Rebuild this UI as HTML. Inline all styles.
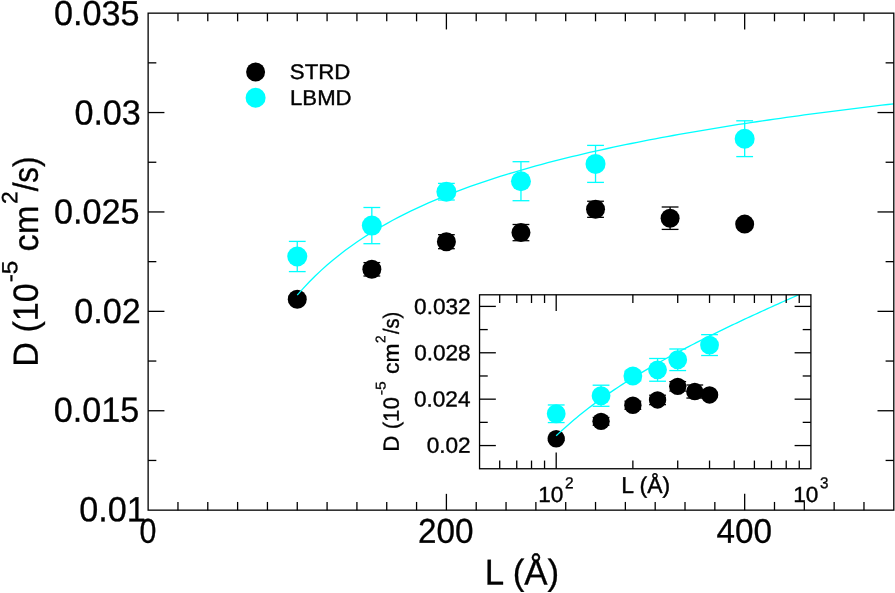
<!DOCTYPE html>
<html><head><meta charset="utf-8"><title>D vs L</title>
<style>html,body{margin:0;padding:0;background:#fff;overflow:hidden}body{width:895px;height:593px;position:relative;font-family:"Liberation Sans",sans-serif}</style>
</head><body>
<svg width="895" height="593" viewBox="0 0 895 593" style="position:absolute;left:0;top:0;display:block" role="img" aria-label="D versus L chart with inset">
<rect x="0" y="0" width="895" height="593" fill="#fff"/>
<g id="main-data">
<line x1="297.26" y1="296.20" x2="297.26" y2="302.20" stroke="#000" stroke-width="1.30"/>
<line x1="288.86" y1="296.20" x2="305.66" y2="296.20" stroke="#000" stroke-width="1.30"/>
<line x1="288.86" y1="302.20" x2="305.66" y2="302.20" stroke="#000" stroke-width="1.30"/>
<circle cx="297.26" cy="299.20" r="9.50" fill="#000"/>
<line x1="371.83" y1="262.60" x2="371.83" y2="276.00" stroke="#000" stroke-width="1.30"/>
<line x1="363.43" y1="262.60" x2="380.23" y2="262.60" stroke="#000" stroke-width="1.30"/>
<line x1="363.43" y1="276.00" x2="380.23" y2="276.00" stroke="#000" stroke-width="1.30"/>
<circle cx="371.83" cy="269.30" r="9.50" fill="#000"/>
<line x1="446.40" y1="234.70" x2="446.40" y2="248.70" stroke="#000" stroke-width="1.30"/>
<line x1="438.00" y1="234.70" x2="454.80" y2="234.70" stroke="#000" stroke-width="1.30"/>
<line x1="438.00" y1="248.70" x2="454.80" y2="248.70" stroke="#000" stroke-width="1.30"/>
<circle cx="446.40" cy="241.70" r="9.50" fill="#000"/>
<line x1="520.96" y1="224.50" x2="520.96" y2="240.70" stroke="#000" stroke-width="1.30"/>
<line x1="512.56" y1="224.50" x2="529.36" y2="224.50" stroke="#000" stroke-width="1.30"/>
<line x1="512.56" y1="240.70" x2="529.36" y2="240.70" stroke="#000" stroke-width="1.30"/>
<circle cx="520.96" cy="232.60" r="9.50" fill="#000"/>
<line x1="595.53" y1="201.25" x2="595.53" y2="217.35" stroke="#000" stroke-width="1.30"/>
<line x1="587.13" y1="201.25" x2="603.93" y2="201.25" stroke="#000" stroke-width="1.30"/>
<line x1="587.13" y1="217.35" x2="603.93" y2="217.35" stroke="#000" stroke-width="1.30"/>
<circle cx="595.53" cy="209.30" r="9.50" fill="#000"/>
<line x1="670.10" y1="207.00" x2="670.10" y2="229.40" stroke="#000" stroke-width="1.30"/>
<line x1="661.70" y1="207.00" x2="678.50" y2="207.00" stroke="#000" stroke-width="1.30"/>
<line x1="661.70" y1="229.40" x2="678.50" y2="229.40" stroke="#000" stroke-width="1.30"/>
<circle cx="670.10" cy="218.20" r="9.50" fill="#000"/>
<line x1="744.67" y1="221.10" x2="744.67" y2="227.10" stroke="#000" stroke-width="1.30"/>
<line x1="736.27" y1="221.10" x2="753.07" y2="221.10" stroke="#000" stroke-width="1.30"/>
<line x1="736.27" y1="227.10" x2="753.07" y2="227.10" stroke="#000" stroke-width="1.30"/>
<circle cx="744.67" cy="224.10" r="9.50" fill="#000"/>
<path d="M297.26,295.15 L303.23,288.38 L309.19,282.02 L315.16,276.03 L321.13,270.38 L327.09,265.03 L333.06,259.96 L339.02,255.14 L344.99,250.55 L350.95,246.17 L356.92,241.99 L362.88,237.99 L368.85,234.16 L374.81,230.49 L380.78,226.96 L386.74,223.57 L392.71,220.30 L398.68,217.16 L404.64,214.12 L410.61,211.19 L416.57,208.36 L422.54,205.61 L428.50,202.96 L434.47,200.39 L440.43,197.89 L446.40,195.47 L452.36,193.12 L458.33,190.84 L464.29,188.62 L470.26,186.46 L476.22,184.36 L482.19,182.31 L488.16,180.31 L494.12,178.36 L500.09,176.46 L506.05,174.61 L512.02,172.79 L517.98,171.02 L523.95,169.29 L529.91,167.60 L535.88,165.95 L541.84,164.33 L547.81,162.74 L553.77,161.19 L559.74,159.67 L565.71,158.18 L571.67,156.71 L577.64,155.28 L583.60,153.87 L589.57,152.49 L595.53,151.14 L601.50,149.81 L607.46,148.50 L613.43,147.21 L619.39,145.95 L625.36,144.71 L631.32,143.49 L637.29,142.29 L643.25,141.11 L649.22,139.95 L655.19,138.81 L661.15,137.68 L667.12,136.58 L673.08,135.49 L679.05,134.41 L685.01,133.35 L690.98,132.31 L696.94,131.28 L702.91,130.27 L708.87,129.27 L714.84,128.29 L720.80,127.31 L726.77,126.36 L732.74,125.41 L738.70,124.48 L744.67,123.56 L750.63,122.65 L756.60,121.75 L762.56,120.86 L768.53,119.99 L774.49,119.13 L780.46,118.27 L786.42,117.43 L792.39,116.60 L798.35,115.77 L804.32,114.96 L810.28,114.16 L816.25,113.36 L822.22,112.58 L828.18,111.80 L834.15,111.03 L840.11,110.27 L846.08,109.52 L852.04,108.78 L858.01,108.04 L863.97,107.31 L869.94,106.59 L875.90,105.88 L881.87,105.18 L887.83,104.48 L893.80,103.79" fill="none" stroke="#0ff" stroke-width="1.30"/>
<line x1="297.26" y1="241.40" x2="297.26" y2="271.60" stroke="#0ff" stroke-width="1.30"/>
<line x1="288.86" y1="241.40" x2="305.66" y2="241.40" stroke="#0ff" stroke-width="1.30"/>
<line x1="288.86" y1="271.60" x2="305.66" y2="271.60" stroke="#0ff" stroke-width="1.30"/>
<circle cx="297.26" cy="256.50" r="10.00" fill="#0ff"/>
<line x1="371.83" y1="207.50" x2="371.83" y2="243.70" stroke="#0ff" stroke-width="1.30"/>
<line x1="363.43" y1="207.50" x2="380.23" y2="207.50" stroke="#0ff" stroke-width="1.30"/>
<line x1="363.43" y1="243.70" x2="380.23" y2="243.70" stroke="#0ff" stroke-width="1.30"/>
<circle cx="371.83" cy="225.60" r="10.00" fill="#0ff"/>
<line x1="446.40" y1="183.40" x2="446.40" y2="200.00" stroke="#0ff" stroke-width="1.30"/>
<line x1="438.00" y1="183.40" x2="454.80" y2="183.40" stroke="#0ff" stroke-width="1.30"/>
<line x1="438.00" y1="200.00" x2="454.80" y2="200.00" stroke="#0ff" stroke-width="1.30"/>
<circle cx="446.40" cy="191.70" r="10.00" fill="#0ff"/>
<line x1="520.96" y1="161.70" x2="520.96" y2="200.70" stroke="#0ff" stroke-width="1.30"/>
<line x1="512.56" y1="161.70" x2="529.36" y2="161.70" stroke="#0ff" stroke-width="1.30"/>
<line x1="512.56" y1="200.70" x2="529.36" y2="200.70" stroke="#0ff" stroke-width="1.30"/>
<circle cx="520.96" cy="181.20" r="10.00" fill="#0ff"/>
<line x1="595.53" y1="145.40" x2="595.53" y2="182.40" stroke="#0ff" stroke-width="1.30"/>
<line x1="587.13" y1="145.40" x2="603.93" y2="145.40" stroke="#0ff" stroke-width="1.30"/>
<line x1="587.13" y1="182.40" x2="603.93" y2="182.40" stroke="#0ff" stroke-width="1.30"/>
<circle cx="595.53" cy="163.90" r="10.00" fill="#0ff"/>
<line x1="744.67" y1="120.80" x2="744.67" y2="156.60" stroke="#0ff" stroke-width="1.30"/>
<line x1="736.27" y1="120.80" x2="753.07" y2="120.80" stroke="#0ff" stroke-width="1.30"/>
<line x1="736.27" y1="156.60" x2="753.07" y2="156.60" stroke="#0ff" stroke-width="1.30"/>
<circle cx="744.67" cy="138.70" r="10.00" fill="#0ff"/>
<circle cx="255.6" cy="72" r="9.50" fill="#000"/>
<circle cx="255.6" cy="97.8" r="10.00" fill="#0ff"/>
</g>
<g id="main-axes">
<rect x="148.13" y="13.15" width="745.67" height="497.00" fill="none" stroke="#000" stroke-width="1.30"/>
<line x1="177.96" y1="510.15" x2="177.96" y2="501.95" stroke="#000" stroke-width="1.30"/>
<line x1="177.96" y1="13.15" x2="177.96" y2="21.35" stroke="#000" stroke-width="1.30"/>
<line x1="207.78" y1="510.15" x2="207.78" y2="501.95" stroke="#000" stroke-width="1.30"/>
<line x1="207.78" y1="13.15" x2="207.78" y2="21.35" stroke="#000" stroke-width="1.30"/>
<line x1="237.61" y1="510.15" x2="237.61" y2="501.95" stroke="#000" stroke-width="1.30"/>
<line x1="237.61" y1="13.15" x2="237.61" y2="21.35" stroke="#000" stroke-width="1.30"/>
<line x1="267.44" y1="510.15" x2="267.44" y2="501.95" stroke="#000" stroke-width="1.30"/>
<line x1="267.44" y1="13.15" x2="267.44" y2="21.35" stroke="#000" stroke-width="1.30"/>
<line x1="297.26" y1="510.15" x2="297.26" y2="501.95" stroke="#000" stroke-width="1.30"/>
<line x1="297.26" y1="13.15" x2="297.26" y2="21.35" stroke="#000" stroke-width="1.30"/>
<line x1="327.09" y1="510.15" x2="327.09" y2="501.95" stroke="#000" stroke-width="1.30"/>
<line x1="327.09" y1="13.15" x2="327.09" y2="21.35" stroke="#000" stroke-width="1.30"/>
<line x1="356.92" y1="510.15" x2="356.92" y2="501.95" stroke="#000" stroke-width="1.30"/>
<line x1="356.92" y1="13.15" x2="356.92" y2="21.35" stroke="#000" stroke-width="1.30"/>
<line x1="386.74" y1="510.15" x2="386.74" y2="501.95" stroke="#000" stroke-width="1.30"/>
<line x1="386.74" y1="13.15" x2="386.74" y2="21.35" stroke="#000" stroke-width="1.30"/>
<line x1="416.57" y1="510.15" x2="416.57" y2="501.95" stroke="#000" stroke-width="1.30"/>
<line x1="416.57" y1="13.15" x2="416.57" y2="21.35" stroke="#000" stroke-width="1.30"/>
<line x1="446.40" y1="510.15" x2="446.40" y2="493.85" stroke="#000" stroke-width="1.30"/>
<line x1="446.40" y1="13.15" x2="446.40" y2="29.45" stroke="#000" stroke-width="1.30"/>
<line x1="476.22" y1="510.15" x2="476.22" y2="501.95" stroke="#000" stroke-width="1.30"/>
<line x1="476.22" y1="13.15" x2="476.22" y2="21.35" stroke="#000" stroke-width="1.30"/>
<line x1="506.05" y1="510.15" x2="506.05" y2="501.95" stroke="#000" stroke-width="1.30"/>
<line x1="506.05" y1="13.15" x2="506.05" y2="21.35" stroke="#000" stroke-width="1.30"/>
<line x1="535.88" y1="510.15" x2="535.88" y2="501.95" stroke="#000" stroke-width="1.30"/>
<line x1="535.88" y1="13.15" x2="535.88" y2="21.35" stroke="#000" stroke-width="1.30"/>
<line x1="565.71" y1="510.15" x2="565.71" y2="501.95" stroke="#000" stroke-width="1.30"/>
<line x1="565.71" y1="13.15" x2="565.71" y2="21.35" stroke="#000" stroke-width="1.30"/>
<line x1="595.53" y1="510.15" x2="595.53" y2="501.95" stroke="#000" stroke-width="1.30"/>
<line x1="595.53" y1="13.15" x2="595.53" y2="21.35" stroke="#000" stroke-width="1.30"/>
<line x1="625.36" y1="510.15" x2="625.36" y2="501.95" stroke="#000" stroke-width="1.30"/>
<line x1="625.36" y1="13.15" x2="625.36" y2="21.35" stroke="#000" stroke-width="1.30"/>
<line x1="655.19" y1="510.15" x2="655.19" y2="501.95" stroke="#000" stroke-width="1.30"/>
<line x1="655.19" y1="13.15" x2="655.19" y2="21.35" stroke="#000" stroke-width="1.30"/>
<line x1="685.01" y1="510.15" x2="685.01" y2="501.95" stroke="#000" stroke-width="1.30"/>
<line x1="685.01" y1="13.15" x2="685.01" y2="21.35" stroke="#000" stroke-width="1.30"/>
<line x1="714.84" y1="510.15" x2="714.84" y2="501.95" stroke="#000" stroke-width="1.30"/>
<line x1="714.84" y1="13.15" x2="714.84" y2="21.35" stroke="#000" stroke-width="1.30"/>
<line x1="744.67" y1="510.15" x2="744.67" y2="493.85" stroke="#000" stroke-width="1.30"/>
<line x1="744.67" y1="13.15" x2="744.67" y2="29.45" stroke="#000" stroke-width="1.30"/>
<line x1="774.49" y1="510.15" x2="774.49" y2="501.95" stroke="#000" stroke-width="1.30"/>
<line x1="774.49" y1="13.15" x2="774.49" y2="21.35" stroke="#000" stroke-width="1.30"/>
<line x1="804.32" y1="510.15" x2="804.32" y2="501.95" stroke="#000" stroke-width="1.30"/>
<line x1="804.32" y1="13.15" x2="804.32" y2="21.35" stroke="#000" stroke-width="1.30"/>
<line x1="834.15" y1="510.15" x2="834.15" y2="501.95" stroke="#000" stroke-width="1.30"/>
<line x1="834.15" y1="13.15" x2="834.15" y2="21.35" stroke="#000" stroke-width="1.30"/>
<line x1="863.97" y1="510.15" x2="863.97" y2="501.95" stroke="#000" stroke-width="1.30"/>
<line x1="863.97" y1="13.15" x2="863.97" y2="21.35" stroke="#000" stroke-width="1.30"/>
<line x1="148.13" y1="460.45" x2="156.33" y2="460.45" stroke="#000" stroke-width="1.30"/>
<line x1="893.80" y1="460.45" x2="885.60" y2="460.45" stroke="#000" stroke-width="1.30"/>
<line x1="148.13" y1="410.75" x2="164.43" y2="410.75" stroke="#000" stroke-width="1.30"/>
<line x1="893.80" y1="410.75" x2="877.50" y2="410.75" stroke="#000" stroke-width="1.30"/>
<line x1="148.13" y1="361.05" x2="156.33" y2="361.05" stroke="#000" stroke-width="1.30"/>
<line x1="893.80" y1="361.05" x2="885.60" y2="361.05" stroke="#000" stroke-width="1.30"/>
<line x1="148.13" y1="311.35" x2="164.43" y2="311.35" stroke="#000" stroke-width="1.30"/>
<line x1="893.80" y1="311.35" x2="877.50" y2="311.35" stroke="#000" stroke-width="1.30"/>
<line x1="148.13" y1="261.65" x2="156.33" y2="261.65" stroke="#000" stroke-width="1.30"/>
<line x1="893.80" y1="261.65" x2="885.60" y2="261.65" stroke="#000" stroke-width="1.30"/>
<line x1="148.13" y1="211.95" x2="164.43" y2="211.95" stroke="#000" stroke-width="1.30"/>
<line x1="893.80" y1="211.95" x2="877.50" y2="211.95" stroke="#000" stroke-width="1.30"/>
<line x1="148.13" y1="162.25" x2="156.33" y2="162.25" stroke="#000" stroke-width="1.30"/>
<line x1="893.80" y1="162.25" x2="885.60" y2="162.25" stroke="#000" stroke-width="1.30"/>
<line x1="148.13" y1="112.55" x2="164.43" y2="112.55" stroke="#000" stroke-width="1.30"/>
<line x1="893.80" y1="112.55" x2="877.50" y2="112.55" stroke="#000" stroke-width="1.30"/>
<line x1="148.13" y1="62.85" x2="156.33" y2="62.85" stroke="#000" stroke-width="1.30"/>
<line x1="893.80" y1="62.85" x2="885.60" y2="62.85" stroke="#000" stroke-width="1.30"/>
</g>
<g id="inset">
<rect x="479.55" y="294.80" width="331.35" height="173.95" fill="#fff"/>
<clipPath id="ic"><rect x="479.55" y="294.80" width="331.35" height="173.95"/></clipPath>
<line x1="556.20" y1="437.02" x2="556.20" y2="440.51" stroke="#000" stroke-width="1.30"/>
<line x1="547.80" y1="437.02" x2="564.60" y2="437.02" stroke="#000" stroke-width="1.30"/>
<line x1="547.80" y1="440.51" x2="564.60" y2="440.51" stroke="#000" stroke-width="1.30"/>
<circle cx="556.20" cy="438.76" r="8.70" fill="#000"/>
<line x1="601.05" y1="417.42" x2="601.05" y2="425.24" stroke="#000" stroke-width="1.30"/>
<line x1="592.65" y1="417.42" x2="609.45" y2="417.42" stroke="#000" stroke-width="1.30"/>
<line x1="592.65" y1="425.24" x2="609.45" y2="425.24" stroke="#000" stroke-width="1.30"/>
<circle cx="601.05" cy="421.33" r="8.70" fill="#000"/>
<line x1="632.87" y1="401.16" x2="632.87" y2="409.32" stroke="#000" stroke-width="1.30"/>
<line x1="624.47" y1="401.16" x2="641.27" y2="401.16" stroke="#000" stroke-width="1.30"/>
<line x1="624.47" y1="409.32" x2="641.27" y2="409.32" stroke="#000" stroke-width="1.30"/>
<circle cx="632.87" cy="405.24" r="8.70" fill="#000"/>
<line x1="657.56" y1="395.21" x2="657.56" y2="404.65" stroke="#000" stroke-width="1.30"/>
<line x1="649.16" y1="395.21" x2="665.96" y2="395.21" stroke="#000" stroke-width="1.30"/>
<line x1="649.16" y1="404.65" x2="665.96" y2="404.65" stroke="#000" stroke-width="1.30"/>
<circle cx="657.56" cy="399.93" r="8.70" fill="#000"/>
<line x1="677.72" y1="381.65" x2="677.72" y2="391.04" stroke="#000" stroke-width="1.30"/>
<line x1="669.32" y1="381.65" x2="686.12" y2="381.65" stroke="#000" stroke-width="1.30"/>
<line x1="669.32" y1="391.04" x2="686.12" y2="391.04" stroke="#000" stroke-width="1.30"/>
<circle cx="677.72" cy="386.34" r="8.70" fill="#000"/>
<line x1="694.77" y1="385.00" x2="694.77" y2="398.06" stroke="#000" stroke-width="1.30"/>
<line x1="686.37" y1="385.00" x2="703.17" y2="385.00" stroke="#000" stroke-width="1.30"/>
<line x1="686.37" y1="398.06" x2="703.17" y2="398.06" stroke="#000" stroke-width="1.30"/>
<circle cx="694.77" cy="391.53" r="8.70" fill="#000"/>
<line x1="709.54" y1="393.22" x2="709.54" y2="396.72" stroke="#000" stroke-width="1.30"/>
<line x1="701.14" y1="393.22" x2="717.94" y2="393.22" stroke="#000" stroke-width="1.30"/>
<line x1="701.14" y1="396.72" x2="717.94" y2="396.72" stroke="#000" stroke-width="1.30"/>
<circle cx="709.54" cy="394.97" r="8.70" fill="#000"/>
<path d="M556.20,435.81 L558.75,433.39 L561.29,431.02 L563.84,428.69 L566.39,426.40 L568.94,424.16 L571.48,421.96 L574.03,419.79 L576.58,417.67 L579.12,415.57 L581.67,413.52 L584.22,411.49 L586.76,409.50 L589.31,407.54 L591.86,405.61 L594.40,403.71 L596.95,401.83 L599.50,399.98 L602.05,398.16 L604.59,396.36 L607.14,394.59 L609.69,392.84 L612.23,391.11 L614.78,389.40 L617.33,387.71 L619.88,386.05 L622.42,384.40 L624.97,382.77 L627.52,381.16 L630.06,379.57 L632.61,377.99 L635.16,376.43 L637.70,374.89 L640.25,373.36 L642.80,371.84 L645.35,370.34 L647.89,368.85 L650.44,367.38 L652.99,365.92 L655.53,364.47 L658.08,363.04 L660.63,361.61 L663.17,360.20 L665.72,358.79 L668.27,357.40 L670.82,356.02 L673.36,354.65 L675.91,353.29 L678.46,351.93 L681.00,350.59 L683.55,349.25 L686.10,347.93 L688.64,346.61 L691.19,345.29 L693.74,343.99 L696.29,342.69 L698.83,341.41 L701.38,340.12 L703.93,338.85 L706.47,337.58 L709.02,336.32 L711.57,335.06 L714.11,333.81 L716.66,332.56 L719.21,331.33 L721.76,330.09 L724.30,328.86 L726.85,327.64 L729.40,326.42 L731.94,325.21 L734.49,324.00 L737.04,322.79 L739.58,321.59 L742.13,320.40 L744.68,319.21 L747.23,318.02 L749.77,316.84 L752.32,315.66 L754.87,314.48 L757.41,313.31 L759.96,312.14 L762.51,310.97 L765.05,309.81 L767.60,308.65 L770.15,307.50 L772.70,306.34 L775.24,305.19 L777.79,304.05 L780.34,302.90 L782.88,301.76 L785.43,300.62 L787.98,299.49 L790.52,298.35 L793.07,297.22 L795.62,296.09 L798.16,294.97 L800.71,293.84 L803.26,292.72 L805.81,291.60 L808.35,290.48 L810.90,289.36" fill="none" stroke="#0ff" stroke-width="1.30" clip-path="url(#ic)"/>
<line x1="556.20" y1="404.96" x2="556.20" y2="422.57" stroke="#0ff" stroke-width="1.30"/>
<line x1="547.80" y1="404.96" x2="564.60" y2="404.96" stroke="#0ff" stroke-width="1.30"/>
<line x1="547.80" y1="422.57" x2="564.60" y2="422.57" stroke="#0ff" stroke-width="1.30"/>
<circle cx="556.20" cy="413.77" r="9.40" fill="#0ff"/>
<line x1="601.05" y1="385.20" x2="601.05" y2="406.30" stroke="#0ff" stroke-width="1.30"/>
<line x1="592.65" y1="385.20" x2="609.45" y2="385.20" stroke="#0ff" stroke-width="1.30"/>
<line x1="592.65" y1="406.30" x2="609.45" y2="406.30" stroke="#0ff" stroke-width="1.30"/>
<circle cx="601.05" cy="395.75" r="9.40" fill="#0ff"/>
<line x1="632.87" y1="371.14" x2="632.87" y2="380.82" stroke="#0ff" stroke-width="1.30"/>
<line x1="624.47" y1="371.14" x2="641.27" y2="371.14" stroke="#0ff" stroke-width="1.30"/>
<line x1="624.47" y1="380.82" x2="641.27" y2="380.82" stroke="#0ff" stroke-width="1.30"/>
<circle cx="632.87" cy="375.98" r="9.40" fill="#0ff"/>
<line x1="657.56" y1="358.49" x2="657.56" y2="381.23" stroke="#0ff" stroke-width="1.30"/>
<line x1="649.16" y1="358.49" x2="665.96" y2="358.49" stroke="#0ff" stroke-width="1.30"/>
<line x1="649.16" y1="381.23" x2="665.96" y2="381.23" stroke="#0ff" stroke-width="1.30"/>
<circle cx="657.56" cy="369.86" r="9.40" fill="#0ff"/>
<line x1="677.72" y1="348.99" x2="677.72" y2="370.56" stroke="#0ff" stroke-width="1.30"/>
<line x1="669.32" y1="348.99" x2="686.12" y2="348.99" stroke="#0ff" stroke-width="1.30"/>
<line x1="669.32" y1="370.56" x2="686.12" y2="370.56" stroke="#0ff" stroke-width="1.30"/>
<circle cx="677.72" cy="359.77" r="9.40" fill="#0ff"/>
<line x1="709.54" y1="334.64" x2="709.54" y2="355.51" stroke="#0ff" stroke-width="1.30"/>
<line x1="701.14" y1="334.64" x2="717.94" y2="334.64" stroke="#0ff" stroke-width="1.30"/>
<line x1="701.14" y1="355.51" x2="717.94" y2="355.51" stroke="#0ff" stroke-width="1.30"/>
<circle cx="709.54" cy="345.08" r="9.40" fill="#0ff"/>
<rect x="479.55" y="294.80" width="331.35" height="173.95" fill="none" stroke="#000" stroke-width="1.30"/>
<line x1="499.70" y1="468.75" x2="499.70" y2="460.55" stroke="#000" stroke-width="1.30"/>
<line x1="499.70" y1="294.80" x2="499.70" y2="303.00" stroke="#000" stroke-width="1.30"/>
<line x1="516.75" y1="468.75" x2="516.75" y2="460.55" stroke="#000" stroke-width="1.30"/>
<line x1="516.75" y1="294.80" x2="516.75" y2="303.00" stroke="#000" stroke-width="1.30"/>
<line x1="531.52" y1="468.75" x2="531.52" y2="460.55" stroke="#000" stroke-width="1.30"/>
<line x1="531.52" y1="294.80" x2="531.52" y2="303.00" stroke="#000" stroke-width="1.30"/>
<line x1="544.55" y1="468.75" x2="544.55" y2="460.55" stroke="#000" stroke-width="1.30"/>
<line x1="544.55" y1="294.80" x2="544.55" y2="303.00" stroke="#000" stroke-width="1.30"/>
<line x1="556.20" y1="468.75" x2="556.20" y2="452.45" stroke="#000" stroke-width="1.30"/>
<line x1="556.20" y1="294.80" x2="556.20" y2="311.10" stroke="#000" stroke-width="1.30"/>
<line x1="632.87" y1="468.75" x2="632.87" y2="460.55" stroke="#000" stroke-width="1.30"/>
<line x1="632.87" y1="294.80" x2="632.87" y2="303.00" stroke="#000" stroke-width="1.30"/>
<line x1="677.72" y1="468.75" x2="677.72" y2="460.55" stroke="#000" stroke-width="1.30"/>
<line x1="677.72" y1="294.80" x2="677.72" y2="303.00" stroke="#000" stroke-width="1.30"/>
<line x1="709.54" y1="468.75" x2="709.54" y2="460.55" stroke="#000" stroke-width="1.30"/>
<line x1="709.54" y1="294.80" x2="709.54" y2="303.00" stroke="#000" stroke-width="1.30"/>
<line x1="734.23" y1="468.75" x2="734.23" y2="460.55" stroke="#000" stroke-width="1.30"/>
<line x1="734.23" y1="294.80" x2="734.23" y2="303.00" stroke="#000" stroke-width="1.30"/>
<line x1="754.40" y1="468.75" x2="754.40" y2="460.55" stroke="#000" stroke-width="1.30"/>
<line x1="754.40" y1="294.80" x2="754.40" y2="303.00" stroke="#000" stroke-width="1.30"/>
<line x1="771.45" y1="468.75" x2="771.45" y2="460.55" stroke="#000" stroke-width="1.30"/>
<line x1="771.45" y1="294.80" x2="771.45" y2="303.00" stroke="#000" stroke-width="1.30"/>
<line x1="786.22" y1="468.75" x2="786.22" y2="460.55" stroke="#000" stroke-width="1.30"/>
<line x1="786.22" y1="294.80" x2="786.22" y2="303.00" stroke="#000" stroke-width="1.30"/>
<line x1="799.25" y1="468.75" x2="799.25" y2="460.55" stroke="#000" stroke-width="1.30"/>
<line x1="799.25" y1="294.80" x2="799.25" y2="303.00" stroke="#000" stroke-width="1.30"/>
<line x1="479.55" y1="445.56" x2="495.85" y2="445.56" stroke="#000" stroke-width="1.30"/>
<line x1="810.90" y1="445.56" x2="794.60" y2="445.56" stroke="#000" stroke-width="1.30"/>
<line x1="479.55" y1="422.36" x2="487.75" y2="422.36" stroke="#000" stroke-width="1.30"/>
<line x1="810.90" y1="422.36" x2="802.70" y2="422.36" stroke="#000" stroke-width="1.30"/>
<line x1="479.55" y1="399.17" x2="495.85" y2="399.17" stroke="#000" stroke-width="1.30"/>
<line x1="810.90" y1="399.17" x2="794.60" y2="399.17" stroke="#000" stroke-width="1.30"/>
<line x1="479.55" y1="375.98" x2="487.75" y2="375.98" stroke="#000" stroke-width="1.30"/>
<line x1="810.90" y1="375.98" x2="802.70" y2="375.98" stroke="#000" stroke-width="1.30"/>
<line x1="479.55" y1="352.78" x2="495.85" y2="352.78" stroke="#000" stroke-width="1.30"/>
<line x1="810.90" y1="352.78" x2="794.60" y2="352.78" stroke="#000" stroke-width="1.30"/>
<line x1="479.55" y1="329.59" x2="487.75" y2="329.59" stroke="#000" stroke-width="1.30"/>
<line x1="810.90" y1="329.59" x2="802.70" y2="329.59" stroke="#000" stroke-width="1.30"/>
<line x1="479.55" y1="306.40" x2="495.85" y2="306.40" stroke="#000" stroke-width="1.30"/>
<line x1="810.90" y1="306.40" x2="794.60" y2="306.40" stroke="#000" stroke-width="1.30"/>
</g>
<g id="labels" style="opacity:0.999" font-family="Liberation Sans, sans-serif" fill="#000">
<text transform="translate(54.00,223.47) scale(1.0044,1.0270) rotate(0.03)" font-size="34.00" stroke="#000" stroke-width="0.30">0.025</text>
<text transform="translate(54.05,25.10) scale(1.0044,1.0270) rotate(0.03)" font-size="34.00" stroke="#000" stroke-width="0.30">0.035</text>
<text transform="translate(74.40,124.47) scale(1.0044,1.0270) rotate(0.03)" font-size="34.00" stroke="#000" stroke-width="0.30">0.03</text>
<text transform="translate(74.28,322.95) scale(1.0044,1.0270) rotate(0.03)" font-size="34.00" stroke="#000" stroke-width="0.30">0.02</text>
<text transform="translate(53.75,421.70) scale(1.0044,1.0270) rotate(0.03)" font-size="34.00" stroke="#000" stroke-width="0.30">0.015</text>
<text transform="translate(79.37,521.33) scale(1.0044,1.0270) rotate(0.03)" font-size="34.00" stroke="#000" stroke-width="0.30">0.01</text>
<text transform="translate(139.50,542.85) scale(0.8925,1.0118) rotate(0.03)" font-size="34.00" stroke="#000" stroke-width="0.30">0</text>
<text transform="translate(418.06,542.85) scale(0.9786,1.0118) rotate(0.03)" font-size="34.00" stroke="#000" stroke-width="0.30">200</text>
<text transform="translate(716.59,542.85) scale(0.9782,1.0020) rotate(0.03)" font-size="34.00" stroke="#000" stroke-width="0.30">400</text>
<text transform="translate(484.85,584.58) scale(1.0269,1.0539) rotate(0.03)" font-size="34.00" stroke="#000" stroke-width="0.30">L (Å)</text>
<text transform="translate(289.85,79.05) scale(0.9979,0.9472) rotate(0.03)" font-size="22.30" stroke="#000" stroke-width="0.40">STRD</text>
<text transform="translate(290.05,104.97) scale(0.9944,0.9672) rotate(0.03)" font-size="22.30" stroke="#000" stroke-width="0.40">LBMD</text>
<text transform="translate(37.75,366.63) rotate(-90) scale(1.0014,1.0293) rotate(0.03)" font-size="34.00" stroke="#000" stroke-width="0.30">D (10</text>
<text transform="translate(17.35,282.37) rotate(-90) scale(1.0132,0.9147) rotate(0.03)" font-size="24.00" stroke="#000" stroke-width="0.40">-5</text>
<text transform="translate(37.88,251.50) rotate(-90) scale(1.0107,1.0293) rotate(0.03)" font-size="34.00" stroke="#000" stroke-width="0.30">cm</text>
<text transform="translate(17.35,204.00) rotate(-90) scale(0.9552,0.9216) rotate(0.03)" font-size="24.00" stroke="#000" stroke-width="0.40">2</text>
<text transform="translate(37.75,191.37) rotate(-90) scale(0.9208,1.0293) rotate(0.03)" font-size="34.00" stroke="#000" stroke-width="0.30">/s)</text>
<text transform="translate(414.12,313.88) scale(0.9968,0.9688) rotate(0.03)" font-size="22.67" stroke="#000" stroke-width="0.40">0.032</text>
<text transform="translate(414.15,360.32) scale(0.9968,0.9688) rotate(0.03)" font-size="22.67" stroke="#000" stroke-width="0.40">0.028</text>
<text transform="translate(413.98,406.43) scale(0.9968,0.9688) rotate(0.03)" font-size="22.67" stroke="#000" stroke-width="0.40">0.024</text>
<text transform="translate(426.68,452.77) scale(0.9968,0.9688) rotate(0.03)" font-size="22.67" stroke="#000" stroke-width="0.40">0.02</text>
<text transform="translate(538.25,501.90) scale(0.9968,0.9688) rotate(0.03)" font-size="22.67" stroke="#000" stroke-width="0.40">10</text>
<text transform="translate(564.98,488.25) scale(0.9464,0.9775) rotate(0.03)" font-size="16.30" stroke="#000" stroke-width="0.35">2</text>
<text transform="translate(793.15,501.90) scale(0.9968,0.9688) rotate(0.03)" font-size="22.67" stroke="#000" stroke-width="0.40">10</text>
<text transform="translate(819.88,488.25) scale(0.9329,0.9775) rotate(0.03)" font-size="16.30" stroke="#000" stroke-width="0.35">3</text>
<text transform="translate(621.23,493.05) scale(1.0131,1.0067) rotate(0.03)" font-size="22.67" stroke="#000" stroke-width="0.40">L (Å)</text>
<text transform="translate(398.82,451.75) rotate(-90) scale(0.9885,0.9732) rotate(0.03)" font-size="22.67" stroke="#000" stroke-width="0.40">D (10</text>
<text transform="translate(385.38,395.13) rotate(-90) scale(0.9505,0.8620) rotate(0.03)" font-size="16.30" stroke="#000" stroke-width="0.35">-5</text>
<text transform="translate(398.82,374.00) rotate(-90) scale(1.0045,0.9732) rotate(0.03)" font-size="22.67" stroke="#000" stroke-width="0.40">cm</text>
<text transform="translate(385.25,342.88) rotate(-90) scale(0.8407,0.8524) rotate(0.03)" font-size="16.30" stroke="#000" stroke-width="0.35">2</text>
<text transform="translate(398.82,334.12) rotate(-90) scale(0.8844,0.9732) rotate(0.03)" font-size="22.67" stroke="#000" stroke-width="0.40">/s)</text>
</g></svg>
</body></html>
